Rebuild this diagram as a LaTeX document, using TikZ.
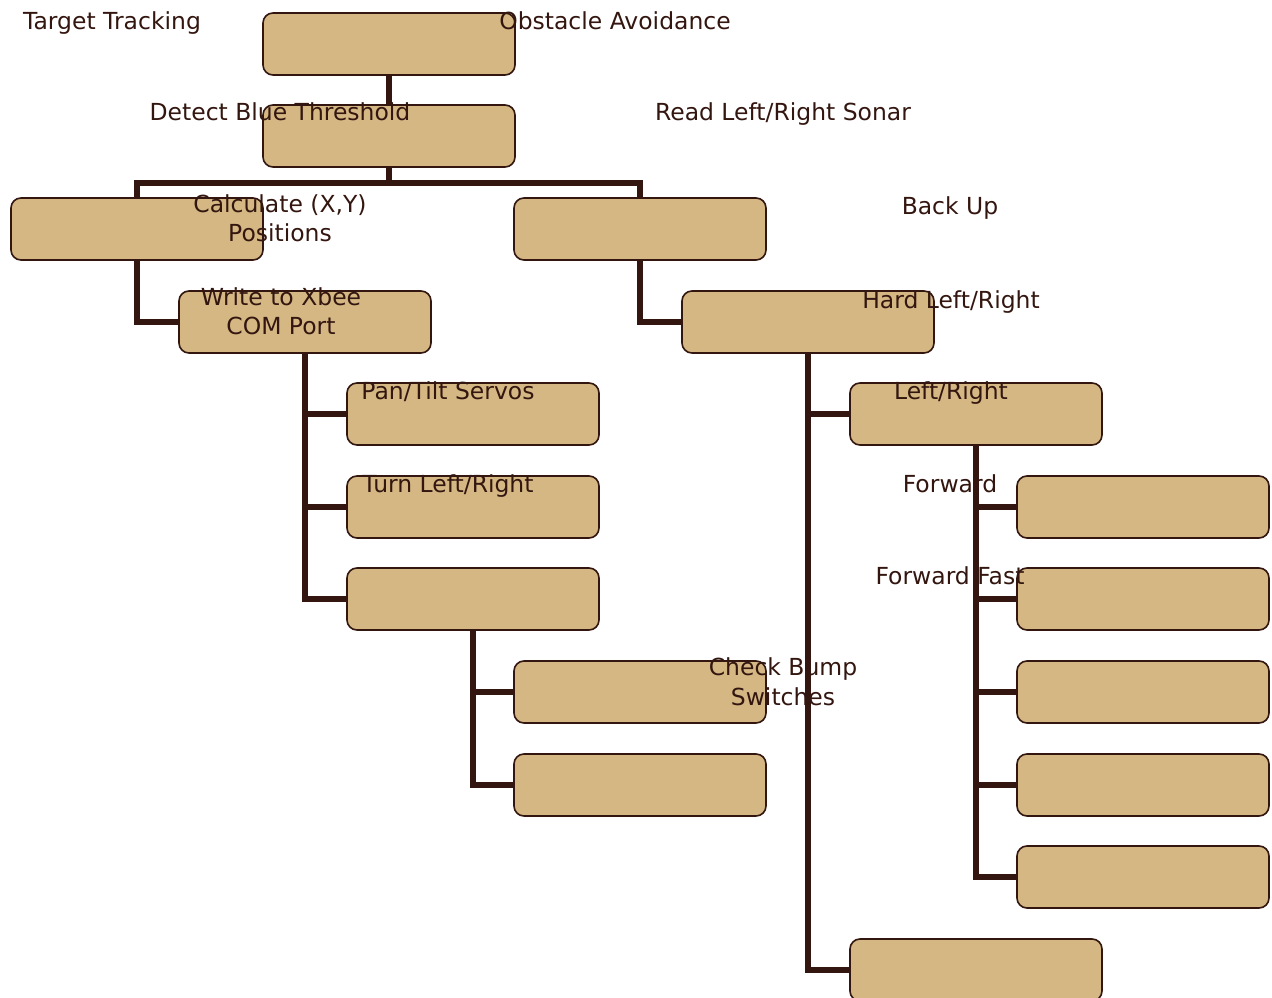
\documentclass[tikz,border=0pt]{standalone}
\usepackage{fontspec}
\setmainfont{DejaVu Sans}
\definecolor{boxfill}{HTML}{D4B783}
\definecolor{ink}{HTML}{33160F}
\begin{document}
\begin{tikzpicture}[x=0.75pt,y=-0.75pt]
    \useasboundingbox (0,0) rectangle (1272,998);
    \begin{scope}[every node/.style={rectangle, rounded corners=7.5pt, draw=ink, fill=boxfill, line width=1.2pt, minimum width=189pt, minimum height=46.5pt, inner sep=0pt, outer sep=0pt}]
        \node (1) at (389, 44) {};
        \node (2) at (389, 136) {};
        \node (3) at (137, 229) {};
        \node (4) at (640, 229) {};
        \node (5) at (305, 322) {};
        \node (6) at (808, 322) {};
        \node (7) at (473, 414) {};
        \node (8) at (473, 507) {};
        \node (9) at (473, 599) {};
        \node (10) at (640, 692) {};
        \node (11) at (640, 785) {};
        \node (12) at (976, 414) {};
        \node (13) at (1143, 507) {};
        \node (14) at (1143, 599) {};
        \node (15) at (1143, 692) {};
        \node (16) at (1143, 785) {};
        \node (17) at (1143, 877) {};
        \node (18) at (976, 970) {};
    \end{scope}
    \tikzset{conn/.style={draw=ink, line width=3.8pt}}

    \draw[conn] (1)--(2);
    \draw[conn] (2.south) -- ++(0,16) -| (3.north);
    \draw[conn] (2.south) -- ++(0,16) -| (4.north);
    \draw[conn] (3.south) |- (5.west);
    \draw[conn] (4.south) |- (6.west);
    \draw[conn] (5.south) |- (7.west);
    \draw[conn] (5.south) |- (8.west);
    \draw[conn] (5.south) |- (9.west);
    \draw[conn] (9.south) |- (10.west);
    \draw[conn] (9.south) |- (11.west);
    \draw[conn] (6.south) |- (12.west);
    \draw[conn] (6.south) |- (18.west);
    \draw[conn] (12.south) |- (13.west);
    \draw[conn] (12.south) |- (14.west);
    \draw[conn] (12.south) |- (15.west);
    \draw[conn] (12.south) |- (16.west);
    \draw[conn] (12.south) |- (17.west);

    \begin{scope}[every node/.style={text=ink, font=\fontsize{17.6}{21.75}\selectfont, align=center, anchor=base, inner sep=0pt}]
        \node (track) at (112, 29.3) {Target Tracking};
        \node (avoid) at (615, 29.3) {Obstacle Avoidance};
        \node (blue) at (280, 120.7) {Detect Blue Threshold};
        \node (sonar) at (783, 120.7) {Read Left/Right Sonar};
        \node (calc) at (280, 241.7) {Calculate (X,Y)\\Positions};
        \node (back) at (950, 215) {Back Up};
        \node (xbee) at (281, 335) {Write to Xbee\\COM Port};
        \node (hard) at (951, 308.3) {Hard Left/Right};
        \node (pan) at (448, 400) {Pan/Tilt Servos};
        \node (lr) at (951, 400) {Left/Right};
        \node (turn) at (448, 493) {Turn Left/Right};
        \node (fwd) at (950, 492.7) {Forward};
        \node (fast) at (950, 585) {Forward Fast};
        \node (bump) at (783, 705) {Check Bump\\Switches};
    \end{scope}
\end{tikzpicture}
\end{document}
